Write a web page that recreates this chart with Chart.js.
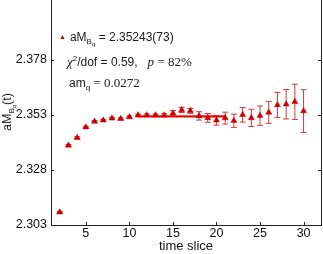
<!DOCTYPE html>
<html>
<head>
<meta charset="utf-8">
<script src="https://cdn.jsdelivr.net/npm/chart.js@4.4.1/dist/chart.umd.min.js"></script>
<style>
  body { margin: 0; background: #fff; }
  #wrap { position: relative; width: 323px; height: 254px; }
  .t { position: absolute; white-space: nowrap; font-family: "Liberation Sans", Arial, sans-serif;
       font-size: 12px; color: #1a1a1a; line-height: 1; }
  .t sub { font-size: 8px; vertical-align: -3px; line-height: 1; }
  .t sub sub { font-size: 6px; vertical-align: -2px; }
  .m { font-family: "Liberation Serif", serif; font-size: 13px; }
  .i { font-style: italic; }
  .mk { color: #c00000; font-size: 7px; vertical-align: 2px; margin-right: 4px; }
</style>
</head>
<body>
<div id="wrap">
  <canvas id="c" width="323" height="254"></canvas>
  <div class="t" style="left:59px;top:31px"><span class="mk">&#9650;</span>aM<sub>B<sub>q</sub></sub> = 2.35243(73)</div>
  <div class="t" style="left:67px;top:55px"><span class="m i">&chi;</span><sup style="font-size:8px">2</sup>/dof = 0.59, &nbsp; <span class="m i">p</span> <span class="m">= 82%</span></div>
  <div class="t" style="left:69px;top:76px">am<sub>q</sub> <span class="m">= 0.0272</span></div>
  <div class="t" style="left:9px;top:112px;font-size:12.5px;transform:translate(-50%,-50%) rotate(-90deg)">aM<sub>B<sub>q</sub></sub>(t)</div>
</div>
<script>
// effective mass plateau
const timeSlices = [2, 3, 4, 5, 6, 7, 8, 9, 10, 11, 12, 13, 14, 15, 16,
  17, 18, 19, 20, 21, 22, 23, 24, 25, 26, 27, 28, 29, 30];
const meffValues = [2.3088, 2.3392, 2.3427, 2.3475, 2.3501, 2.3506, 2.3515, 2.3513, 2.3521, 2.3529,
  2.3529, 2.3529, 2.3529, 2.3538, 2.3553, 2.3549, 2.3526, 2.3517, 2.3506, 2.3516,
  2.3504, 2.3531, 2.3517, 2.3527, 2.3542, 2.3576, 2.3579, 2.3590, 2.3548];
const meffErrors = [0.0004, 0.0004, 0.0004, 0.0004, 0.0004, 0.0004, 0.0004, 0.0004, 0.0005, 0.0005,
  0.0006, 0.0006, 0.0007, 0.0012, 0.0012, 0.0011, 0.0019, 0.0020, 0.0022, 0.0027,
  0.0030, 0.0033, 0.0039, 0.0044, 0.0050, 0.0057, 0.0067, 0.0080, 0.0097];

const fitRange = [11, 21];
const fitValue = 2.35243;
const fitError = 0.00073;

const xTicks = [5, 10, 15, 20, 25, 30];
const yTicks = [2.303, 2.328, 2.353, 2.378];

const points = timeSlices.map((t, i) => ({ x: t, y: meffValues[i] }));

// error bars + inward ticks
const errorBars = {
  id: "errorBars",
  beforeDatasetsDraw(chart) {
    const { ctx, scales: { x, y } } = chart;
    ctx.save();
    ctx.strokeStyle = "#d43a3a";
    ctx.lineWidth = 1;
    ctx.beginPath();
    timeSlices.forEach((t, i) => {
      const px = x.getPixelForValue(t);
      const top = y.getPixelForValue(meffValues[i] + meffErrors[i]);
      const bot = y.getPixelForValue(meffValues[i] - meffErrors[i]);
      ctx.moveTo(px, top); ctx.lineTo(px, bot);
      ctx.moveTo(px - 3, top); ctx.lineTo(px + 3, top);
      ctx.moveTo(px - 3, bot); ctx.lineTo(px + 3, bot);
    });
    ctx.stroke();
    ctx.restore();
  },
  afterDraw(chart) {
    const { ctx, chartArea: a, scales: { x, y } } = chart;
    ctx.save();
    ctx.strokeStyle = "#222";
    ctx.lineWidth = 1;
    ctx.beginPath();
    ctx.moveTo(a.right + 0.5, a.top); ctx.lineTo(a.right + 0.5, a.bottom);
    xTicks.forEach(v => {
      const px = Math.round(x.getPixelForValue(v)) + 0.5;
      ctx.moveTo(px, a.bottom); ctx.lineTo(px, a.bottom - 3);
    });
    yTicks.forEach(v => {
      const py = Math.round(y.getPixelForValue(v)) + 0.5;
      ctx.moveTo(a.left, py); ctx.lineTo(a.left + 3, py);
      ctx.moveTo(a.right, py); ctx.lineTo(a.right - 3, py);
    });
    ctx.stroke();
    ctx.restore();
  }
};

const tickFont = { family: "Liberation Sans", size: 12.5 };

new Chart(document.getElementById("c"), {
  type: "scatter",
  data: {
    datasets: [
      {
        label: "fit upper",
        type: "line",
        order: 3,
        data: fitRange.map(t => ({ x: t, y: fitValue + fitError })),
        borderWidth: 0,
        pointRadius: 0,
        fill: false
      },
      {
        label: "fit lower",
        type: "line",
        order: 3,
        data: fitRange.map(t => ({ x: t, y: fitValue - fitError })),
        borderWidth: 0,
        pointRadius: 0,
        backgroundColor: "rgba(240, 120, 120, 0.55)",
        fill: "-1"
      },
      {
        label: "fit",
        type: "line",
        order: 2,
        data: fitRange.map(t => ({ x: t, y: fitValue })),
        borderColor: "#e00000",
        borderWidth: 1.8,
        pointRadius: 0
      },
      {
        label: "aM",
        order: 1,
        data: points,
        pointStyle: "triangle",
        pointRadius: 3.5,
        backgroundColor: "#c80000",
        borderColor: "#c80000",
        borderWidth: 0.5
      }
    ]
  },
  options: {
    responsive: false,
    animation: false,
    devicePixelRatio: 1,
    layout: { autoPadding: false, padding: { left: 0, right: 2, top: 0, bottom: 0 } },
    plugins: { legend: { display: false }, tooltip: { enabled: false } },
    scales: {
      x: {
        type: "linear",
        min: 1,
        max: 32,
        afterBuildTicks: s => { s.ticks = xTicks.map(v => ({ value: v })); },
        afterFit: s => { s.height = 29; s.paddingLeft = 0; s.paddingRight = 0; },
        grid: { display: false, drawTicks: false },
        border: { display: true, color: "#222", width: 1 },
        ticks: { color: "#111", font: tickFont, padding: 1, maxRotation: 0 },
        title: {
          display: true,
          text: "time slice",
          color: "#111",
          font: { family: "Liberation Sans", size: 13 },
          padding: { top: 0, bottom: 0 }
        }
      },
      y: {
        min: 2.303,
        max: 2.4053,
        afterBuildTicks: s => { s.ticks = yTicks.map(v => ({ value: v })); },
        afterFit: s => { s.width = 51; s.paddingTop = 0; s.paddingBottom = 0; },
        grid: { display: false, drawTicks: false },
        border: { display: true, color: "#222", width: 1 },
        ticks: { color: "#111", font: tickFont, padding: 4, callback: v => v.toFixed(3) }
      }
    }
  },
  plugins: [errorBars]
});
</script>
</body>
</html>
